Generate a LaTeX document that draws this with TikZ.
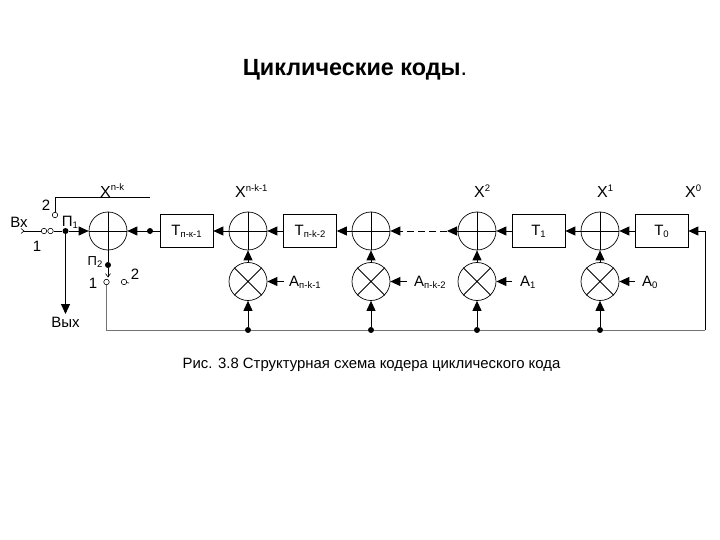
\documentclass[tikz,border=0pt]{standalone}
\usepackage{fontspec}
\setmainfont{Liberation Sans}
\usetikzlibrary{arrows.meta}
\tikzset{
 sumn/.style={circle,draw,line width=0.7pt,minimum size=38pt,inner sep=0pt},
 reg/.style={rectangle,draw,line width=0.7pt,minimum width=53pt,minimum height=33pt,inner sep=0pt},
 dotn/.style={circle,fill=black,minimum size=6pt,inner sep=0pt},
 cont/.style={circle,draw,line width=0.6pt,minimum size=5.5pt,inner sep=0pt},
 conn/.style={line width=0.9pt,-{Triangle[length=10pt,width=9pt]}},
 wire/.style={line width=0.9pt},
 bus/.style={line width=1pt,black!55},
 lab/.style={inner sep=0pt,font=\fontsize{15}{15}\selectfont},
 sml/.style={inner sep=0pt,font=\fontsize{13}{13}\selectfont},
 alab/.style={inner sep=0pt,anchor=west,font=\fontsize{15}{15}\selectfont},
 xlab/.style={inner sep=0pt,anchor=base west},
}
\newcommand{\mysub}[2]{#1{\fontsize{9.5}{9.5}\selectfont\raisebox{-2pt}{#2}}}
\newcommand{\mysup}[2]{{\fontsize{16}{16}\selectfont #1}{\fontsize{9.5}{9.5}\selectfont\raisebox{6pt}{#2}}}
\begin{document}
\begin{tikzpicture}[x=1pt,y=-1pt]
\useasboundingbox (0,0) rectangle (720,540);
\node[inner sep=0pt,font=\fontsize{23.4}{24}\selectfont] (title) at (355,70) {\textbf{Циклические коды}.};
\node[inner sep=0pt,font=\fontsize{14.9}{15}\selectfont] (cap) at (371.5,365) {Рис. 3.8 Структурная схема кодера циклического кода};
% adders
\foreach \n/\x in {s0/108,s1/248,s2/371,s3/477,s4/600}{
  \node[sumn] (\n) at (\x,231) {};
  \draw[wire] (\n.west)--(\n.east) (\n.north)--(\n.south);
}
% multipliers
\foreach \n/\x in {m1/248,m2/371,m3/477,m4/600}{
  \node[sumn] (\n) at (\x,281.5) {};
  \draw[wire] (\n.north west)--(\n.south east) (\n.north east)--(\n.south west);
}
% registers
\node[reg] (t1) at (186.5,231) {\mysub{\fontsize{15}{15}\selectfont T}{п-к-1}};
\node[reg] (t2) at (310,231) {\mysub{\fontsize{15}{15}\selectfont T}{п-k-2}};
\node[reg] (t3) at (538.5,231) {\mysub{\fontsize{15}{15}\selectfont T}{1}};
\node[reg] (t4) at (661.5,231) {\mysub{\fontsize{15}{15}\selectfont T}{0}};
% chain
\draw[conn] (t4.west) -- (s4.east);
\draw[conn] (s4.west) -- (t3.east);
\draw[conn] (t3.west) -- (s3.east);
\coordinate (g1) at (447,231);
\coordinate (g2) at (402,231);
\draw[conn] (s3.west) -- (g1);
\draw[wire,dash pattern=on 7pt off 4pt] (g1) -- (g2);
\draw[conn] (g2) -- (s2.east);
\draw[conn] (s2.west) -- (t2.east);
\draw[conn] (t2.west) -- (s1.east);
\draw[conn] (s1.west) -- (t1.east);
\draw[conn] (t1.west) -- (s0.east);
\node[dotn] (d0) at (150,231) {};
% multiplier outputs and inputs
\foreach \m/\s/\bx/\cx in {m1/s1/248/284,m2/s2/371/407,m3/s3/477/512,m4/s4/600/635}{
  \draw[conn] (\m.north) -- (\s.south);
  \node[dotn] (b\m) at (\bx,330) {};
  \draw[conn] (b\m) -- (\m.south);
  \coordinate (c\m) at (\cx,281.5);
  \draw[conn] (c\m) -- (\m.east);
}
% feedback bus
\coordinate (br) at (705,330);
\coordinate (tr) at (705,231);
\node[cont] (p2a) at (106.5,282) {};
\node[dotn] (p2) at (108,265) {};
\coordinate (bl) at (106.5,330);
\draw[bus] (p2a) -- (bl) -- (bm1) -- (bm2) -- (bm3) -- (bm4) -- (br);
\draw[wire] (br) -- (tr);
\draw[conn] (tr) -- (t4.east);
% input side
\coordinate (in) at (24,231);
\node[cont] (k1) at (44,231) {};
\node[cont] (k2) at (50.5,231) {};
\node[dotn] (p1) at (65.5,231) {};
\draw[wire] (in) -- (k1);
\draw[line width=0.6pt] (in) ++(-3,-2.5) -- ++(3,2.5) -- ++(-3,2.5);
\draw[wire] (k2) -- (p1);
\draw[conn] (p1) -- (s0.west);
\coordinate (out) at (65.5,314);
\draw[conn] (p1) -- (out);
% switch 1 contact 2 and x^{n-k} line
\node[cont] (k3) at (55,215) {};
\coordinate (u1) at (55,197);
\coordinate (u2) at (150,197);
\draw[wire] (k3) -- (u1) -- (u2);
% switch 2
\draw[wire] (s0.south) -- (p2);
\coordinate (v1) at (108,277);
\draw[wire] (p2) -- (v1);
\draw[line width=0.6pt] (v1) ++(-2.5,-3.5) -- ++(2.5,3.5) -- ++(2.5,-3.5);
\node[cont] (k4) at (124,282) {};
\coordinate (k5) at (129,283);
\draw[line width=0.6pt] (k4) -- (k5);
% labels
\node[lab] (lvx) at (19,222) {Вх};
\node[lab] (l2a) at (46,205) {2};
\node[lab] (l1a) at (37,246) {1};
\node[lab] (lp1) at (70,222) {\mysub{П}{1}};
\node[sml] (lp2) at (95,262) {\mysub{П}{2}};
\node[lab] (l1b) at (93,283) {1};
\node[lab] (l2b) at (135,274) {2};
\node[lab] (lvyx) at (65.5,322) {Вых};
\node[alab] (a1) at (289,282) {\mysub{А}{п-k-1}};
\node[alab] (a2) at (414,282) {\mysub{А}{п-k-2}};
\node[alab] (a3) at (520,282) {\mysub{А}{1}};
\node[alab] (a4) at (642,282) {\mysub{А}{0}};
\node[xlab] (x0) at (100,197) {\mysup{X}{n-k}};
\node[xlab] (x1) at (235,198) {\mysup{X}{n-k-1}};
\node[xlab] (x2) at (474,198) {\mysup{X}{2}};
\node[xlab] (x3) at (597,198) {\mysup{X}{1}};
\node[xlab] (x4) at (685,198) {\mysup{X}{0}};
\end{tikzpicture}
\end{document}
